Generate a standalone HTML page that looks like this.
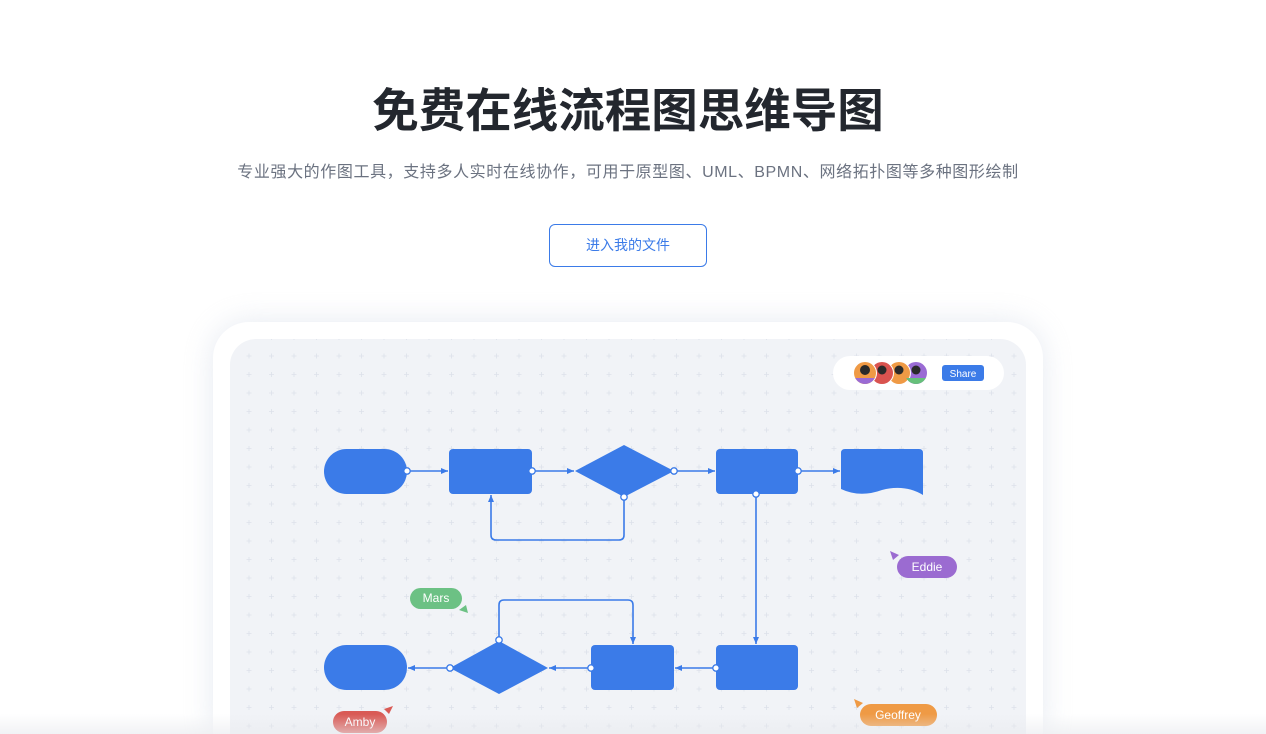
<!DOCTYPE html>
<html><head><meta charset="utf-8"><style>
html,body{margin:0;padding:0;width:1266px;height:734px;overflow:hidden;background:#fff;font-family:"Liberation Sans","Noto Sans CJK SC",sans-serif;position:relative}
.t{position:absolute;left:-5px;width:1266px;text-align:center}
h1{margin:0;top:81px;font-size:46.5px;font-weight:bold;color:#23272e;line-height:60px}
.sub{top:162px;font-size:16px;color:#6b7280;line-height:22px;letter-spacing:0.6px}
.btn{position:absolute;left:549px;top:224px;width:156px;height:41px;border:1px solid #3b7be8;border-radius:6px;color:#3b7be8;font-size:14px;line-height:41px;text-align:center}
.card{position:absolute;left:213px;top:322px;width:830px;height:412px;background:#fff;border-radius:36px 36px 0 0;box-shadow:0 0 30px rgba(200,208,225,0.45)}
.inner{position:absolute;left:230px;top:339px;width:796px;height:395px;border-radius:26px 26px 0 0;background:#f1f3f7;overflow:hidden}
.fade{position:absolute;left:0;top:714px;width:1266px;height:20px;background:linear-gradient(rgba(240,241,244,0),rgba(232,234,238,0.6))}
</style></head><body>
<h1 class="t">免费在线流程图思维导图</h1>
<div class="t sub">专业强大的作图工具，支持多人实时在线协作，可用于原型图、UML、BPMN、网络拓扑图等多种图形绘制</div>
<div class="btn">进入我的文件</div>
<div class="card"></div>
<div class="inner"></div>
<svg style="position:absolute;left:0;top:0" width="1266" height="734" xmlns="http://www.w3.org/2000/svg">
<defs>
<pattern id="g" x="238" y="347" width="22.5" height="18.5" patternUnits="userSpaceOnUse">
<path d="M0 -2.5V2.5M-2.5 0H2.5" stroke="#dde1ea" stroke-width="0.8" transform="translate(11 9)"/>
</pattern>
<marker id="a" markerWidth="8" markerHeight="8" refX="7" refY="4" orient="auto" markerUnits="userSpaceOnUse"><path d="M0 1L7 4L0 7Z" fill="#3b7be8"/></marker>
<clipPath id="c"><rect x="230" y="339" width="796" height="395" rx="26"/></clipPath>
<clipPath id="a4"><circle cx="916" cy="373" r="11"/></clipPath>
<clipPath id="a1"><circle cx="865" cy="373" r="11"/></clipPath>
</defs>
<rect x="230" y="339" width="796" height="395" fill="url(#g)" clip-path="url(#c)"/>
<g clip-path="url(#c)" fill="#3b7be8">
<rect x="324" y="449" width="83" height="45" rx="22.5"/>
<rect x="449" y="449" width="83" height="45" rx="4"/>
<path d="M624 445L674 471L624 497L575 471Z"/>
<rect x="716" y="449" width="82" height="45" rx="4"/>
<path d="M845 449H919Q923 449 923 453V495Q905 484 882 490Q860 498 841 489V453Q841 449 845 449Z"/>
<rect x="324" y="645" width="83" height="45" rx="22.5"/>
<path d="M499 641L548 668L499 694L450 668Z"/>
<rect x="591" y="645" width="83" height="45" rx="4"/>
<rect x="716" y="645" width="82" height="45" rx="4"/>
<g fill="none" stroke="#3b7be8" stroke-width="1.6">
<path d="M407 471H448" marker-end="url(#a)"/>
<path d="M532 471H574" marker-end="url(#a)"/>
<path d="M674 471H715" marker-end="url(#a)"/>
<path d="M798 471H840" marker-end="url(#a)"/>
<path d="M624 497V535Q624 540 619 540H496Q491 540 491 535V495" marker-end="url(#a)"/>
<path d="M756 494V644" marker-end="url(#a)"/>
<path d="M716 668H675" marker-end="url(#a)"/>
<path d="M591 668H549" marker-end="url(#a)"/>
<path d="M450 668H408" marker-end="url(#a)"/>
<path d="M499 640V605Q499 600 504 600H628Q633 600 633 605V644" marker-end="url(#a)"/>
</g>
<g fill="#fff" stroke="#3b7be8" stroke-width="1.3">
<circle cx="407" cy="471" r="3.2"/><circle cx="532" cy="471" r="3.2"/><circle cx="674" cy="471" r="3.2"/><circle cx="798" cy="471" r="3.2"/>
<circle cx="624" cy="497" r="3.2"/><circle cx="756" cy="494" r="3.2"/>
<circle cx="716" cy="668" r="3.2"/><circle cx="591" cy="668" r="3.2"/><circle cx="450" cy="668" r="3.2"/><circle cx="499" cy="640" r="3.2"/>
</g>
</g>
<rect x="833" y="356" width="171" height="34" rx="17" fill="#fff"/>
<circle cx="916" cy="373" r="11.5" fill="#9a6bd4" stroke="#fff"/>
<circle cx="899" cy="373" r="11.5" fill="#ef9a45" stroke="#fff"/>
<circle cx="882" cy="373" r="11.5" fill="#d9534f" stroke="#fff"/>
<circle cx="865" cy="373" r="11.5" fill="#ef9a45" stroke="#fff"/>
<rect x="900" y="378" width="32" height="12" rx="6" fill="#66c07a" clip-path="url(#a4)"/>
<rect x="849" y="378" width="32" height="12" rx="6" fill="#9a6bd4" clip-path="url(#a1)"/>
<circle cx="865" cy="370" r="5" fill="#2a2a2a"/><circle cx="882" cy="370" r="4.5" fill="#2a2a2a"/><circle cx="899" cy="370" r="4.5" fill="#2a2a2a"/><circle cx="916" cy="370" r="4.5" fill="#2a2a2a"/>
<rect x="942" y="365" width="42" height="16" rx="3" fill="#3b7be8"/>
<text x="963" y="377" font-size="10" fill="#fff" text-anchor="middle" font-family="Liberation Sans">Share</text>
<g font-family="Liberation Sans" font-size="12" fill="#fff" text-anchor="middle">
<rect x="410" y="588" width="52" height="21" rx="10.5" fill="#6cc184"/><text x="436" y="602">Mars</text>
<path d="M468 613L459 610L466 605Z" fill="#6cc184"/>
<rect x="333" y="711" width="54" height="22" rx="11" fill="#d95a55"/><text x="360" y="726">Amby</text>
<path d="M393 706L384 709L389 714Z" fill="#d95a55"/>
<rect x="897" y="556" width="60" height="22" rx="11" fill="#9b6bd1"/><text x="927" y="571">Eddie</text>
<path d="M890 551L899 555L893 560Z" fill="#9b6bd1"/>
<rect x="860" y="704" width="77" height="22" rx="11" fill="#ef9a45"/><text x="898" y="719">Geoffrey</text>
<path d="M854 699L863 703L857 708Z" fill="#ef9a45"/>
</g>
</svg>
<div class="fade"></div>
</body></html>
